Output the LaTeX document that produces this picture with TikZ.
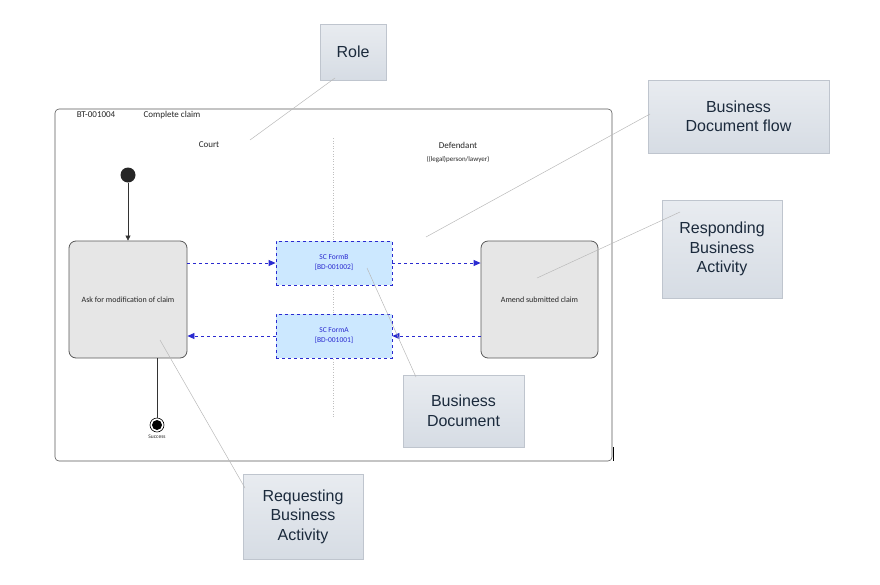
\documentclass[tikz,border=0pt]{standalone}
\usepackage{fontspec}
\setmainfont{Carlito}
\newfontfamily\callfont{Liberation Sans}
\usetikzlibrary{arrows.meta}
\definecolor{callfill}{HTML}{D6DCE4}
\definecolor{callborder}{HTML}{BFC5CE}
\definecolor{calltext}{HTML}{1B2A3C}
\definecolor{docfill}{HTML}{CCE8FF}
\definecolor{docblue}{HTML}{2A2AD0}
\definecolor{actfill}{HTML}{E6E6E6}
\tikzset{
  callout/.style={draw=callborder, top color=callfill!55, bottom color=callfill, inner sep=0pt, text=calltext, font=\callfont\fontsize{16}{19.5}\selectfont, align=center},
  pointer/.style={draw=gray!55, line width=0.5pt},
  act/.style={draw=gray!70!black, fill=actfill, rounded corners=7pt, line width=0.8pt, font=\fontsize{8}{9}\selectfont, text=black!85},
  doc/.style={draw=docblue, fill=docfill, dashed, line width=0.8pt, font=\fontsize{7.5}{10}\selectfont, text=docblue, align=center},
  flow/.style={draw=docblue, dashed, line width=0.8pt, -{Triangle[length=7pt,width=6pt]}},
  lbl/.style={font=\fontsize{9}{10}\selectfont, text=black!85, inner sep=0pt}
}
\begin{document}
\begin{tikzpicture}[x=1pt,y=-1pt]
\useasboundingbox (0,0) rectangle (880,584);
% frame
\draw[gray!70!black, line width=0.6pt, rounded corners=4pt] (55,109) rectangle (612,461);
\draw[black, line width=0.6pt] (613,447) -- (613,461);
\node[lbl] (bt) at (96,115) {BT-001004};
\node[lbl] (cc) at (172,115) {Complete claim};
\node[lbl] (court) at (209,145) {Court};
\node[lbl] (def) at (458,145) {Defendant};
\node[lbl, font=\fontsize{7}{8}\selectfont] (defsub) at (458,160) {((legal)person/lawyer)};
\draw[gray!50, dotted, line width=0.6pt] (333,138) -- (333,418);
% nodes
\node[circle, fill=black!85, minimum size=15pt, inner sep=0pt] (init) at (128,175) {};
\node[act, minimum width=118pt, minimum height=117pt] (ask) at (128,299.5) {Ask for modification of claim};
\node[act, minimum width=117pt, minimum height=117pt] (amend) at (539.5,299.5) {Amend submitted claim};
\node[doc, minimum width=116pt, minimum height=44pt] (fb) at (334,263) {SC FormB\\{}[BD-001002]};
\node[doc, minimum width=116pt, minimum height=44pt] (fa) at (334,336) {SC FormA\\{}[BD-001001]};
\node[circle, draw=black, line width=0.6pt, minimum size=14pt, inner sep=0pt] (fin) at (157,425) {};
\node[circle, fill=black, minimum size=10pt, inner sep=0pt] at (fin) {};
\node[lbl, font=\fontsize{5.5}{6}\selectfont] (succ) at (157,437) {Success};
% connectors
\draw[black!80, line width=0.6pt, -{Triangle[length=5pt,width=5pt]}] (init) -- (ask);
\draw[black!80, line width=0.6pt] (ask.south -| fin) -- (fin);
\draw[flow] (ask.east |- fb) -- (fb.west);
\draw[flow] (fb.east) -- (amend.west |- fb);
\draw[flow] (amend.west |- fa) -- (fa.east);
\draw[flow] (fa.west) -- (ask.east |- fa);
% callouts
\node[callout, minimum width=66pt, minimum height=56pt] (role) at (353,52) {Role};
\node[callout, minimum width=181pt, minimum height=73pt] (bdf) at (738.5,116.5) {Business\\Document flow};
\node[callout, minimum width=120pt, minimum height=98pt] (rba) at (722,249) {Responding\\Business\\Activity};
\node[callout, minimum width=121pt, minimum height=72pt] (bd) at (463.5,411) {Business\\Document};
\node[callout, minimum width=120pt, minimum height=85pt] (req) at (303,516.5) {Requesting\\Business\\Activity};
\coordinate (p1) at (250,140);
\coordinate (p2) at (426,237);
\coordinate (p3) at (537,278);
\coordinate (p4) at (367,268);
\coordinate (p5) at (160,340);
\draw[pointer] (p1) -- (335,78);
\draw[pointer] (p2) -- (650,114);
\draw[pointer] (p3) -- (680,212);
\draw[pointer] (p4) -- (416,377);
\draw[pointer] (p5) -- (245,488);
\end{tikzpicture}
\end{document}
